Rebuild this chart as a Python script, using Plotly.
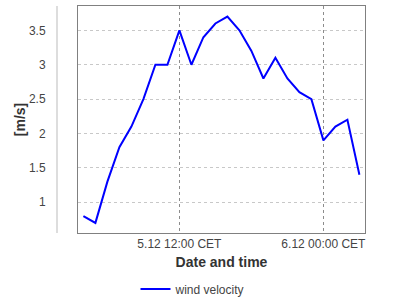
import plotly.graph_objects as go

times = ["2023-12-05 04:00", "2023-12-05 05:00", "2023-12-05 06:00", "2023-12-05 07:00",
         "2023-12-05 08:00", "2023-12-05 09:00", "2023-12-05 10:00", "2023-12-05 11:00",
         "2023-12-05 12:00", "2023-12-05 13:00", "2023-12-05 14:00", "2023-12-05 15:00",
         "2023-12-05 16:00", "2023-12-05 17:00", "2023-12-05 18:00", "2023-12-05 19:00",
         "2023-12-05 20:00", "2023-12-05 21:00", "2023-12-05 22:00", "2023-12-05 23:00",
         "2023-12-06 00:00", "2023-12-06 01:00", "2023-12-06 02:00", "2023-12-06 03:00"]
wind_velocity = [0.8, 0.7, 1.3, 1.8, 2.1, 2.5, 3.0, 3.0, 3.5, 3.0, 3.4, 3.6,
                 3.7, 3.5, 3.2, 2.8, 3.1, 2.8, 2.6, 2.5, 1.9, 2.1, 2.2, 1.4]
x_tick_vals = ["2023-12-05 12:00", "2023-12-06 00:00"]
x_tick_text = ["5.12 12:00 CET", "6.12 00:00 CET"]
y_tick_vals = [1, 1.5, 2, 2.5, 3, 3.5]
y_tick_text = ["1", "1.5", "2", "2.5", "3", "3.5"]
x_range = ["2023-12-05 03:33", "2023-12-06 03:28"]
y_range = [0.553, 3.854]

FONT = "Liberation Sans, Arial, sans-serif"

fig = go.Figure()
fig.add_trace(go.Scatter(
    x=times, y=wind_velocity, mode="lines", name="wind velocity",
    line=dict(color="#0000ff", width=2),
))

fig.update_layout(
    width=400, height=300,
    margin=dict(l=78, r=35, t=6, b=67, autoexpand=False),
    paper_bgcolor="white", plot_bgcolor="white",
    font=dict(family=FONT, size=12, color="#444444"),
    showlegend=True,
    legend=dict(orientation="h", xref="container", yref="container",
                x=0.4825, xanchor="center", y=1 - 289 / 300, yanchor="middle",
                font=dict(size=12, color="#444444"), itemwidth=30),
    xaxis=dict(
        type="date", range=x_range, tickmode="array",
        tickvals=x_tick_vals, ticktext=x_tick_text,
        showgrid=True, gridcolor="#8c8c8c", griddash="dot", gridwidth=1,
        showline=True, linecolor="#808080", linewidth=1, mirror=True,
        ticks="", zeroline=False, automargin=False,
        tickfont=dict(size=12, color="#444444"),
        title=dict(text="<b>Date and time</b>", font=dict(size=14, color="#333333"), standoff=6),
    ),
    yaxis=dict(
        range=y_range, tickmode="array", tickvals=y_tick_vals, ticktext=y_tick_text,
        showgrid=True, gridcolor="#c8c8c8", griddash="dot", gridwidth=1,
        showline=True, linecolor="#808080", linewidth=1, mirror=True,
        ticks="", zeroline=False, ticklabelstandoff=29, automargin=False,
        tickfont=dict(size=12, color="#444444"),
        title=dict(text="<b>[m/s]</b>", font=dict(size=14, color="#333333"), standoff=0),
    ),
)

# offset axis line (JFreeChart style), drawn in paper coordinates
fig.add_shape(type="line", xref="paper", yref="paper",
              x0=-21 / 287, x1=-21 / 287, y0=0, y1=1,
              line=dict(color="#bbbbbb", width=1))

fig.write_html("out.html")
